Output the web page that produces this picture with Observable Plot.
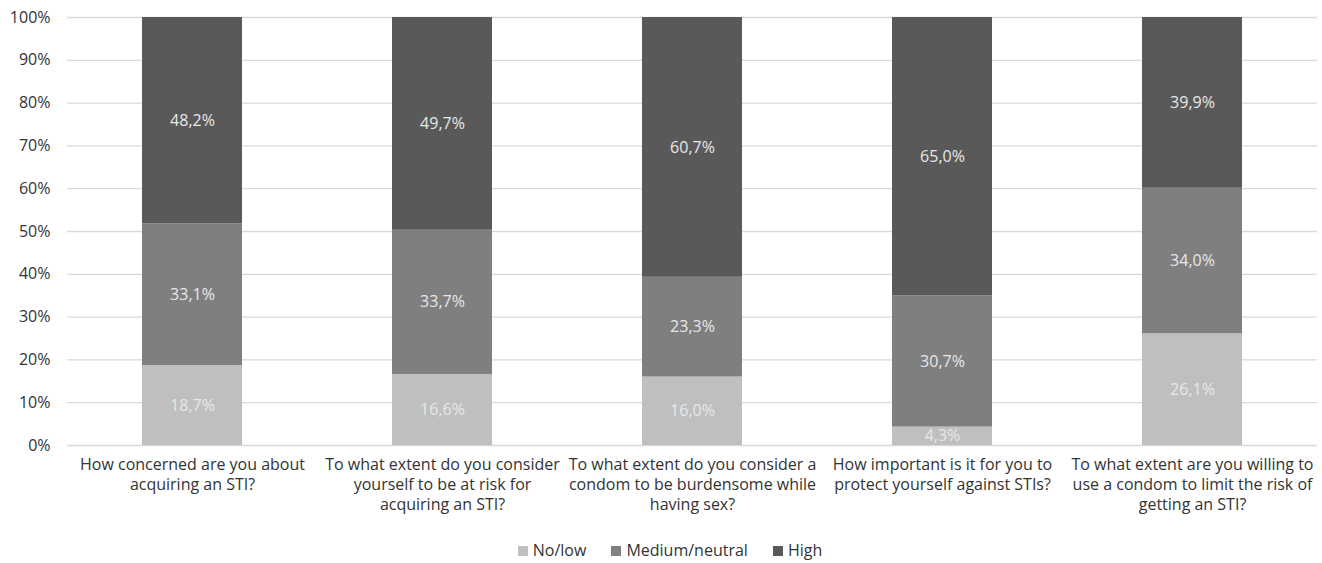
<!DOCTYPE html>
<html>
<head>
<meta charset="utf-8">
<script src="https://cdn.jsdelivr.net/npm/d3@7"></script>
<script src="https://cdn.jsdelivr.net/npm/@observablehq/plot@0.6"></script>
<style>
  body { margin: 0; background: #fff; font-family: "Open Sans", "Liberation Sans", sans-serif; }
  #chart { width: 1322px; }
  .legend { display: flex; justify-content: center; gap: 25px; font-size: 16px; color: #333; margin-top: 15px; padding-left: 18px; line-height: 20px; }
  .legend span.sw { display: inline-block; width: 10px; height: 10px; margin-right: 5px; vertical-align: 0px; }
</style>
</head>
<body>
<div id="chart"></div>
<script>
const categories = [
  "How concerned are you about\nacquiring an STI?",
  "To what extent do you consider\nyourself to be at risk for\nacquiring an STI?",
  "To what extent do you consider a\ncondom to be burdensome while\nhaving sex?",
  "How important is it for you to\nprotect yourself against STIs?",
  "To what extent are you willing to\nuse a condom to limit the risk of\ngetting an STI?"
];
const seriesNames = ["No/low", "Medium/neutral", "High"];
const noLow = [18.7, 16.6, 16.0, 4.3, 26.1];
const medium = [33.1, 33.7, 23.3, 30.7, 34.0];
const high = [48.2, 49.7, 60.7, 65.0, 39.9];
const colors = ["#bfbfbf", "#7f7f7f", "#595959"];
const yTicks = [0, 10, 20, 30, 40, 50, 60, 70, 80, 90, 100];

const seriesValues = [noLow, medium, high];
const data = [];
categories.forEach((c, i) => {
  seriesNames.forEach((s, j) => {
    data.push({category: c, series: s, value: seriesValues[j][i]});
  });
});

const fmt = v => v.toFixed(1).replace(".", ",") + "%";

const plot = Plot.plot({
  width: 1322,
  height: 525,
  marginLeft: 67,
  marginRight: 5,
  marginTop: 17,
  marginBottom: 80,
  style: {fontFamily: "'Open Sans', 'Liberation Sans', sans-serif", fontSize: "16px", color: "#333", background: "#fff"},
  x: {domain: categories, paddingInner: 0.6, paddingOuter: 0.3, label: null},
  y: {domain: [0, 100], label: null},
  color: {domain: seriesNames, range: colors},
  marks: [
    Plot.gridY(yTicks, {stroke: "#d9d9d9", strokeOpacity: 1, strokeWidth: 1.3}),
    Plot.barY(data, Plot.stackY({x: "category", y: "value", fill: "series", order: seriesNames})),
    Plot.text(data, Plot.stackY({x: "category", y: "value", z: "series", order: seriesNames, text: d => fmt(d.value), fill: "#e8e8e8", fontSize: 16})),
    Plot.axisX({tickSize: 0, tickPadding: 10, fontSize: 16, lineHeight: 1.25, fill: "#333"}),
    Plot.axisY({ticks: yTicks, tickFormat: d => d + "%", tickSize: 0, tickPadding: 17, fontSize: 16, fill: "#333"})
  ]
});
document.getElementById("chart").appendChild(plot);

const legend = document.createElement("div");
legend.className = "legend";
seriesNames.forEach((s, i) => {
  const item = document.createElement("div");
  item.innerHTML = `<span class="sw" style="background:${colors[i]}"></span>${s}`;
  legend.appendChild(item);
});
document.getElementById("chart").appendChild(legend);
</script>
</body>
</html>
